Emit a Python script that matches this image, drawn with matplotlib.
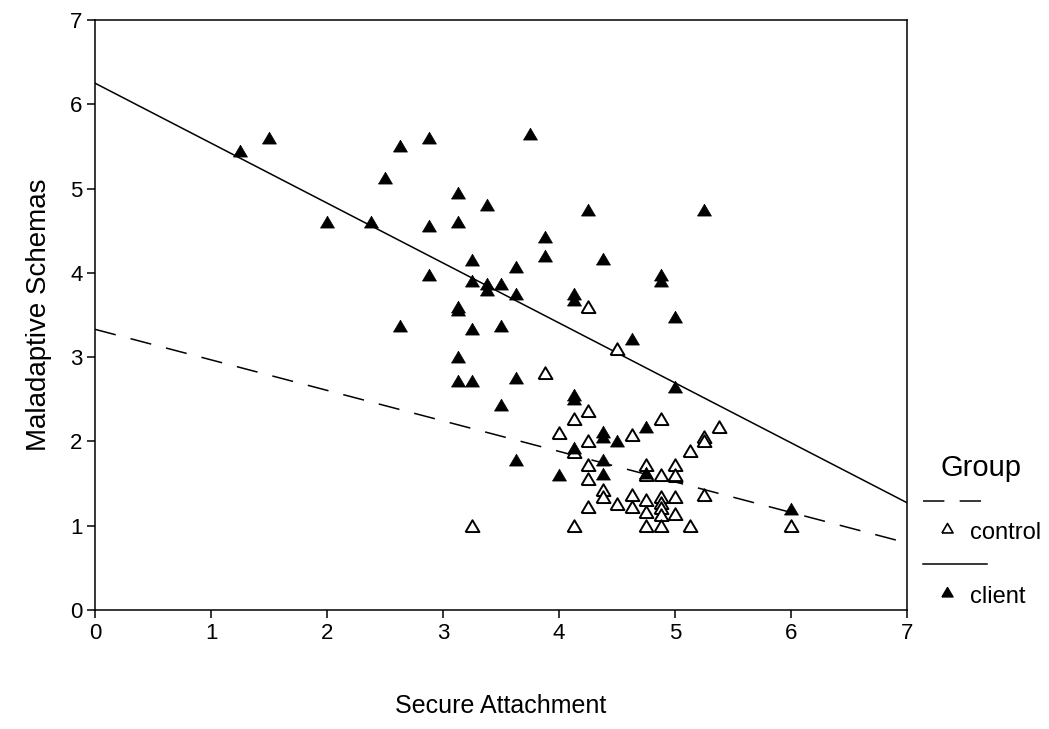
import matplotlib
matplotlib.use("Agg")
import matplotlib.pyplot as plt
from matplotlib.lines import Line2D
import numpy as np

plt.rcParams['font.family'] = ['Liberation Sans', 'DejaVu Sans']

# client group (filled triangles)
clientX = [1.25, 1.5, 2.0, 2.38, 2.5, 2.63, 2.63, 2.88, 2.88, 2.88,
           3.13, 3.13, 3.13, 3.13, 3.13, 3.13, 3.25, 3.25, 3.25, 3.25,
           3.38, 3.38, 3.38, 3.5, 3.5, 3.5, 3.63, 3.63, 3.63, 3.63,
           3.75, 3.88, 3.88, 4.0, 4.13, 4.13, 4.13, 4.13, 4.13, 4.25,
           4.38, 4.38, 4.38, 4.38, 4.38, 4.5, 4.63, 4.75, 4.75, 4.88,
           4.88, 5.0, 5.0, 5.25, 6.0]
clientY = [5.45, 5.6, 4.6, 4.6, 5.12, 5.5, 3.37, 5.6, 4.55, 3.97,
           4.95, 4.6, 3.6, 3.56, 3.0, 2.72, 3.9, 4.15, 3.33, 2.72,
           4.8, 3.87, 3.8, 3.87, 3.37, 2.43, 4.07, 3.75, 2.75, 1.78,
           5.65, 4.43, 4.2, 1.6, 3.75, 3.68, 2.55, 2.5, 1.92, 4.75,
           4.17, 2.11, 2.05, 1.78, 1.61, 2.0, 3.22, 2.17, 1.62, 3.97,
           3.9, 3.48, 2.65, 4.75, 1.2]

# control group (open triangles)
controlX = [3.25, 3.88, 4.0, 4.13, 4.13, 4.13, 4.25, 4.25, 4.25, 4.25,
            4.25, 4.25, 4.38, 4.38, 4.5, 4.5, 4.63, 4.63, 4.63, 4.75,
            4.75, 4.75, 4.75, 4.75, 4.88, 4.88, 4.88, 4.88, 4.88, 4.88,
            4.88, 5.0, 5.0, 5.0, 5.0, 5.0, 5.13, 5.13, 5.25, 5.25,
            5.25, 5.38, 6.0]
controlY = [1.0, 2.81, 2.1, 2.27, 1.88, 1.0, 3.6, 2.36, 2.0, 1.72,
            1.56, 1.22, 1.42, 1.34, 3.1, 1.26, 2.08, 1.36, 1.22, 1.72,
            1.3, 1.16, 1.0, 1.6, 2.27, 1.6, 1.34, 1.27, 1.21, 1.13,
            1.0, 1.72, 1.59, 1.34, 1.14, 1.6, 1.89, 1.0, 2.05, 2.0,
            1.37, 2.17, 1.0]

# fit lines: intercept, slope
clientFit = (6.25, -0.711)
controlFit = (3.33, -0.362)

xTicks = [0, 1, 2, 3, 4, 5, 6, 7]
yTicks = [0, 1, 2, 3, 4, 5, 6, 7]

W, H = 1049, 729
fig = plt.figure(figsize=(W / 100, H / 100), dpi=100)
ax = fig.add_axes([0.0906, 0.1632, 0.774, 0.8094])

# wide, slightly flat triangle like the SPSS marker
tri = [(-1, -0.8), (1, -0.8), (0, 0.9), (-1, -0.8)]

xs = np.array([0, 7])
dashes = (14, 10)
ax.plot(xs, controlFit[0] + controlFit[1] * xs, color='black', lw=1.1, dashes=dashes)
ax.plot(xs, clientFit[0] + clientFit[1] * xs, color='black', lw=1.1)

ax.plot(controlX, controlY, linestyle='none', marker=tri, markersize=10,
        markerfacecolor='white', markeredgecolor='black', markeredgewidth=1.4)
ax.plot(clientX, clientY, linestyle='none', marker=tri, markersize=10,
        markerfacecolor='black', markeredgecolor='black', markeredgewidth=0.5)

ax.set_xlim(0, 7)
ax.set_ylim(0, 7)
ax.set_xticks(xTicks)
ax.set_yticks(yTicks)
ax.tick_params(direction='out', length=6, width=1.1, labelsize=16, pad=3)
for s in ax.spines.values():
    s.set_linewidth(1.1)

ax.set_xlabel('Secure Attachment', fontsize=18, labelpad=36)
ax.set_ylabel('Maladaptive Schemas', fontsize=20, labelpad=13)

# legend drawn by hand (SPSS style: line row, then marker + label row)
def px(x, y):
    return x / W, 1 - y / H

fig.text(*px(981, 468), 'Group', fontsize=21, ha='center', va='center')
fig.add_artist(Line2D([923 / W, 987 / W], [px(0, 501)[1]] * 2, color='black', lw=1.1, dashes=dashes))
fig.add_artist(Line2D([947 / W], [px(0, 528)[1]], linestyle='none', marker=tri, markersize=8,
                      markerfacecolor='white', markeredgecolor='black', markeredgewidth=1.2))
fig.text(*px(970, 533), 'control', fontsize=17, ha='left', va='center')
fig.add_artist(Line2D([923 / W, 987 / W], [px(0, 564)[1]] * 2, color='black', lw=1.1))
fig.add_artist(Line2D([947 / W], [px(0, 592)[1]], linestyle='none', marker=tri, markersize=8,
                      color='black'))
fig.text(*px(970, 597), 'client', fontsize=17, ha='left', va='center')

fig.savefig('out.png', dpi=100)
